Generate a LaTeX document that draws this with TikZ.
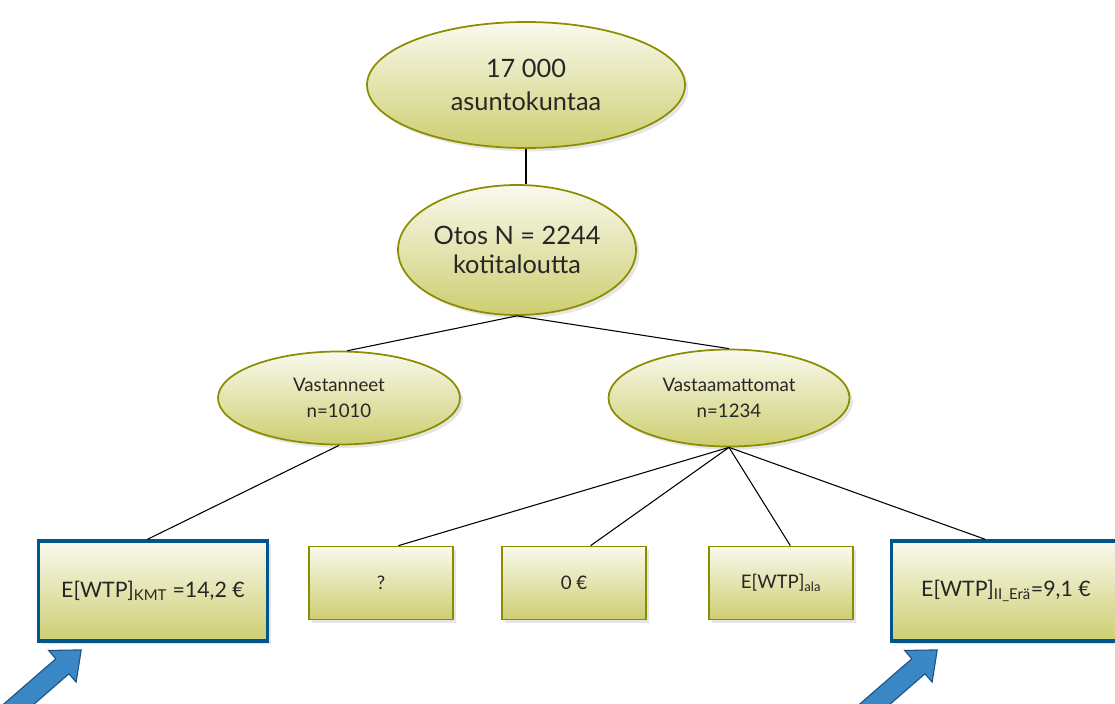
\documentclass[tikz,border=0pt]{standalone}
\usepackage{fontspec}
\setmainfont{Lato}
\usetikzlibrary{shapes.geometric,shadows}
\definecolor{olivebd}{RGB}{140,140,0}
\definecolor{filltop}{RGB}{249,249,238}
\definecolor{fillbot}{RGB}{205,206,112}
\definecolor{boxblue}{RGB}{0,85,140}
\definecolor{arrowfill}{RGB}{58,135,197}
\definecolor{arrowline}{RGB}{28,82,128}
\begin{document}
\begin{tikzpicture}[x=0.75pt,y=-0.75pt]
	\tikzstyle{every node}+=[inner sep=0pt, align=center, text=black!85]
	\tikzstyle{soft}=[top color=filltop, bottom color=fillbot,
		drop shadow={shadow xshift=2.5pt, shadow yshift=-2.5pt, fill=black!20}]
	\tikzstyle{oval}=[ellipse, soft, draw=olivebd, line width=1.3pt]
	\tikzstyle{leaf}=[rectangle, soft, draw=olivebd, line width=1.3pt,
		minimum width=108pt, minimum height=54.75pt, font=\fontsize{14}{16}\selectfont]
	\tikzstyle{result}=[leaf, draw=boxblue, line width=2.6pt,
		minimum width=171.75pt, minimum height=75pt, font=\fontsize{16}{19}\selectfont]
	\tikzstyle{link}=[black, line width=0.8pt]
	\tikzstyle{pointer}=[draw=arrowline, fill=arrowfill, line width=0.8pt, line join=miter]
	\useasboundingbox (0,0) rectangle (1115,704);
	% tree
	\node [oval, minimum width=238.5pt, minimum height=94.5pt,
		font=\fontsize{19}{25}\selectfont] (top) at (526,85) {17 000\\asuntokuntaa};
	\node [oval, minimum width=178.5pt, minimum height=97.5pt,
		font=\fontsize{19}{22}\selectfont] (otos) at (517,250) {Otos N = 2244\\kotitaloutta};
	\node [oval, minimum width=181.5pt, minimum height=69.75pt,
		font=\fontsize{14}{19}\selectfont] (vast) at (339,398) {Vastanneet\\n=1010};
	\node [oval, minimum width=180.75pt, minimum height=72.75pt,
		font=\fontsize{14}{19}\selectfont] (eivast) at (729,398) {Vastaamattomat\\n=1234};
	% leaves
	\node [result] (kmt) at (153,591) {E[WTP]\textsubscript{KMT} =14,2 €};
	\node [leaf] (tunt) at (381,583) {?};
	\node [leaf] (nolla) at (574,583) {0 €};
	\node [leaf] (ala) at (781,583) {E[WTP]\textsubscript{ala}};
	\node [result] (era) at (1006,591) {E[WTP]\textsubscript{II\_Erä}=9,1 €};
	% connectors
	\draw [link] (top.south) -- (top.south |- otos.north);
	\draw [link] (otos.south) -- (vast.80);
	\draw [link] (otos.south) -- (eivast.north);
	\draw [link] (vast.south) -- (kmt.96);
	\draw [link] (eivast.south) -- (tunt.65);
	\draw [link] (eivast.south) -- (nolla.66);
	\draw [link] (eivast.south) -- (ala.76);
	\draw [link] (eivast.south) -- (era.112);
	% pointers
	\foreach \px/\py in {42/684, 898/684}
		\draw [pointer, shift={(\px,\py)}, rotate=41]
			(-52,-10) -- (27,-10) -- (27,-21) -- (52,0) -- (27,21) -- (27,10) -- (-52,10) -- cycle;
\end{tikzpicture}
\end{document}
